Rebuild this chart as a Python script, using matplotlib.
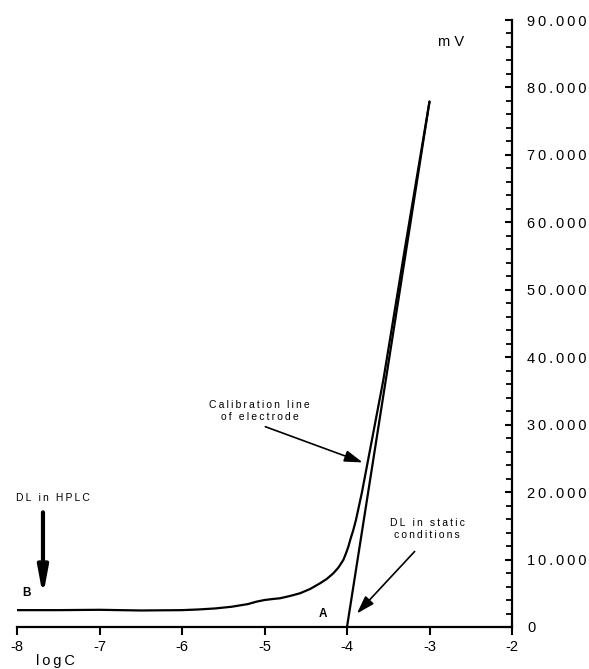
import matplotlib
matplotlib.use("Agg")
import matplotlib.pyplot as plt
from matplotlib.ticker import MultipleLocator, FixedLocator

plt.rcParams['font.family'] = ['Liberation Sans', 'DejaVu Sans']

# Electrode response (log concentration vs potential, mV)
log_c = [-8.0, -7.5, -7.0, -6.5, -6.0, -5.8, -5.6, -5.4, -5.2, -5.1, -5.0,
         -4.9, -4.812, -4.691, -4.570, -4.448, -4.327, -4.246, -4.166,
         -4.105, -4.045, -4.012, -3.984, -3.955, -3.923, -3.891, -3.82,
         -3.70, -3.56, -3.3, -3.0]
mv = [2.5, 2.5, 2.55, 2.45, 2.5, 2.6, 2.75, 3.0, 3.4, 3.75, 4.0,
      4.15, 4.26, 4.6, 5.0, 5.63, 6.48, 7.12, 7.96,
      8.8, 9.93, 10.93, 11.9, 13.15, 14.4, 15.9, 19.9,
      27.6, 36.6, 56.0, 77.9]

# Ideal calibration line of the electrode
calib_x = [-4.0, -3.0]
calib_y = [0.0, 77.9]

x_ticks = [-8, -7, -6, -5, -4, -3, -2]
y_ticks = [0, 10, 20, 30, 40, 50, 60, 70, 80, 90]

TS = '\u2009'


def spaced(s, sep=TS):
    return sep.join(s)


fig = plt.figure(figsize=(5.89, 6.69), dpi=100)
ax = fig.add_axes([17 / 589, 1 - 627 / 669, (512 - 17) / 589, (627 - 20) / 669])

ax.plot(log_c, mv, color='black', lw=1.6, solid_capstyle='round',
        solid_joinstyle='round')
ax.plot(calib_x, calib_y, color='black', lw=1.6, solid_capstyle='round')

ax.set_xlim(-8, -2)
ax.set_ylim(0, 90)

for s in ('top', 'left'):
    ax.spines[s].set_visible(False)
for s in ('bottom', 'right'):
    ax.spines[s].set_linewidth(1.6)

ax.xaxis.set_major_locator(FixedLocator(x_ticks))
ax.set_xticklabels([str(v) for v in x_ticks])
ax.tick_params(axis='x', direction='out', length=5.5, width=1.5, pad=4,
               labelsize=10.5)

ax.yaxis.tick_right()
ax.yaxis.set_major_locator(FixedLocator(y_ticks))
ax.yaxis.set_minor_locator(MultipleLocator(2))
ax.set_yticklabels(['0' if v == 0 else spaced(f"{v:.3f}") for v in y_ticks])
ax.tick_params(axis='y', which='major', direction='in', length=5, width=1.5,
               pad=11, labelsize=10.5)
ax.tick_params(axis='y', which='minor', direction='in', length=4, width=1.3)

# Axis captions
ax.text(-2.74, 86.8, 'm V', ha='center', va='center', fontsize=10.5)
fig.text(55 / 589, 1 - 661 / 669, spaced('logC'), ha='center', va='center',
         fontsize=10.5)

# Point labels
ax.text(-7.88, 5.0, 'B', ha='center', va='center', fontsize=8.5,
        fontweight='bold')
ax.text(-4.29, 2.0, 'A', ha='center', va='center', fontsize=8.5,
        fontweight='bold')

# Detection limit in HPLC
ax.text(-7.56, 19.1, spaced('DL in HPLC'), ha='center', va='center',
        fontsize=7.5)
ax.annotate('', xy=(-7.685, 4.6), xytext=(-7.685, 17.0),
            arrowprops=dict(arrowstyle='-|>,head_length=1.6,head_width=0.3',
                            lw=3.0, color='black', mutation_scale=10,
                            shrinkA=0, shrinkB=0))

# Calibration line callout
ax.text(-5.06, 32.0, spaced('Calibration line') + '\n' + spaced('of electrode'),
        ha='center', va='center', fontsize=7.5, linespacing=1.2)
ax.annotate('', xy=(-3.81, 24.4), xytext=(-4.99, 29.7),
            arrowprops=dict(arrowstyle='-|>,head_length=1.1,head_width=0.35',
                            lw=1.2, color='black', mutation_scale=10,
                            shrinkA=0, shrinkB=0))

# Detection limit in static conditions
ax.text(-3.03, 14.6, spaced('DL in static') + '\n' + spaced('conditions'),
        ha='center', va='center', fontsize=7.5, linespacing=1.25)
ax.annotate('', xy=(-3.88, 2.0), xytext=(-3.18, 11.2),
            arrowprops=dict(arrowstyle='-|>,head_length=1.1,head_width=0.35',
                            lw=1.2, color='black', mutation_scale=10,
                            shrinkA=0, shrinkB=0))

fig.savefig('out.png', dpi=100)
